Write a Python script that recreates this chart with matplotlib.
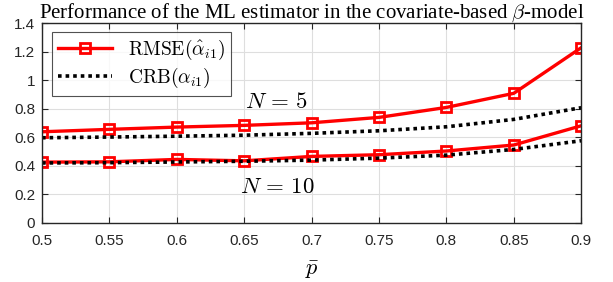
import matplotlib
matplotlib.use("Agg")
import matplotlib.pyplot as plt

# p-bar values on the x axis
p_bar = [0.5, 0.55, 0.6, 0.65, 0.7, 0.75, 0.8, 0.85, 0.9]

# RMSE and CRB for N = 5 and N = 10
rmse_n5 = [0.639, 0.656, 0.672, 0.684, 0.702, 0.740, 0.810, 0.909, 1.229]
crb_n5 = [0.597, 0.602, 0.608, 0.615, 0.628, 0.646, 0.674, 0.726, 0.808]
rmse_n10 = [0.426, 0.428, 0.445, 0.435, 0.466, 0.478, 0.504, 0.546, 0.681]
crb_n10 = [0.420, 0.422, 0.427, 0.432, 0.440, 0.454, 0.475, 0.515, 0.576]

x_ticks = [0.5, 0.55, 0.6, 0.65, 0.7, 0.75, 0.8, 0.85, 0.9]
x_tick_labels = ["0.5", "0.55", "0.6", "0.65", "0.7", "0.75", "0.8", "0.85", "0.9"]
y_ticks = [0, 0.2, 0.4, 0.6, 0.8, 1.0, 1.2, 1.4]
y_tick_labels = ["0", "0.2", "0.4", "0.6", "0.8", "1", "1.2", "1.4"]

plt.rcParams['mathtext.fontset'] = 'cm'
plt.rcParams['font.family'] = ['Liberation Sans', 'DejaVu Sans']

fig = plt.figure(figsize=(6.13, 2.82), dpi=100)
ax = fig.add_axes([0.0685, 0.21, 0.8795, 0.707])

red_style = dict(color='red', linewidth=2.4, marker='s', markersize=7.5,
                 markerfacecolor='none', markeredgecolor='red', markeredgewidth=2)
black_style = dict(color='black', linewidth=2.6, linestyle=(0, (1, 1.1)))

ax.plot(p_bar, rmse_n5, label=r'$\mathrm{RMSE}(\hat{\alpha}_{i1})$', **red_style)
ax.plot(p_bar, crb_n5, label=r'$\mathrm{CRB}(\alpha_{i1})$', **black_style)
ax.plot(p_bar, rmse_n10, **red_style)
ax.plot(p_bar, crb_n10, **black_style)

ax.text(0.674, 0.85, r'$N\,=\,5$', fontsize=16.5, ha='center', va='center')
ax.text(0.675, 0.253, r'$N\,=\,10$', fontsize=16.5, ha='center', va='center')

ax.set_xlim(0.5, 0.9)
ax.set_ylim(0, 1.4)
ax.set_xticks(x_ticks)
ax.set_xticklabels(x_tick_labels)
ax.set_yticks(y_ticks)
ax.set_yticklabels(y_tick_labels)
ax.tick_params(direction='in', top=True, right=True, labelsize=11, length=4,
               color='#262626', labelcolor='#262626')
ax.tick_params(axis='x', pad=8)
ax.tick_params(axis='y', pad=5)
ax.grid(True, color='#dedede', linewidth=0.8)
ax.set_axisbelow(True)
for s in ax.spines.values():
    s.set_color('#262626')
    s.set_linewidth(1)

ax.set_xlabel(r'$\bar{p}$', fontsize=16, labelpad=8)
ax.set_title(r'Performance of the ML estimator in the covariate-based $\beta$-model',
             fontsize=15, family=['Liberation Serif', 'DejaVu Serif'], pad=4)

leg = ax.legend(loc='upper left', fontsize=14, frameon=True, fancybox=False,
                edgecolor='#262626', handlelength=2.8, borderpad=0.3,
                labelspacing=0.2, borderaxespad=0,
                bbox_to_anchor=(0.0186, 0.956))
leg.get_frame().set_linewidth(0.8)

fig.savefig('out.png', dpi=100)
